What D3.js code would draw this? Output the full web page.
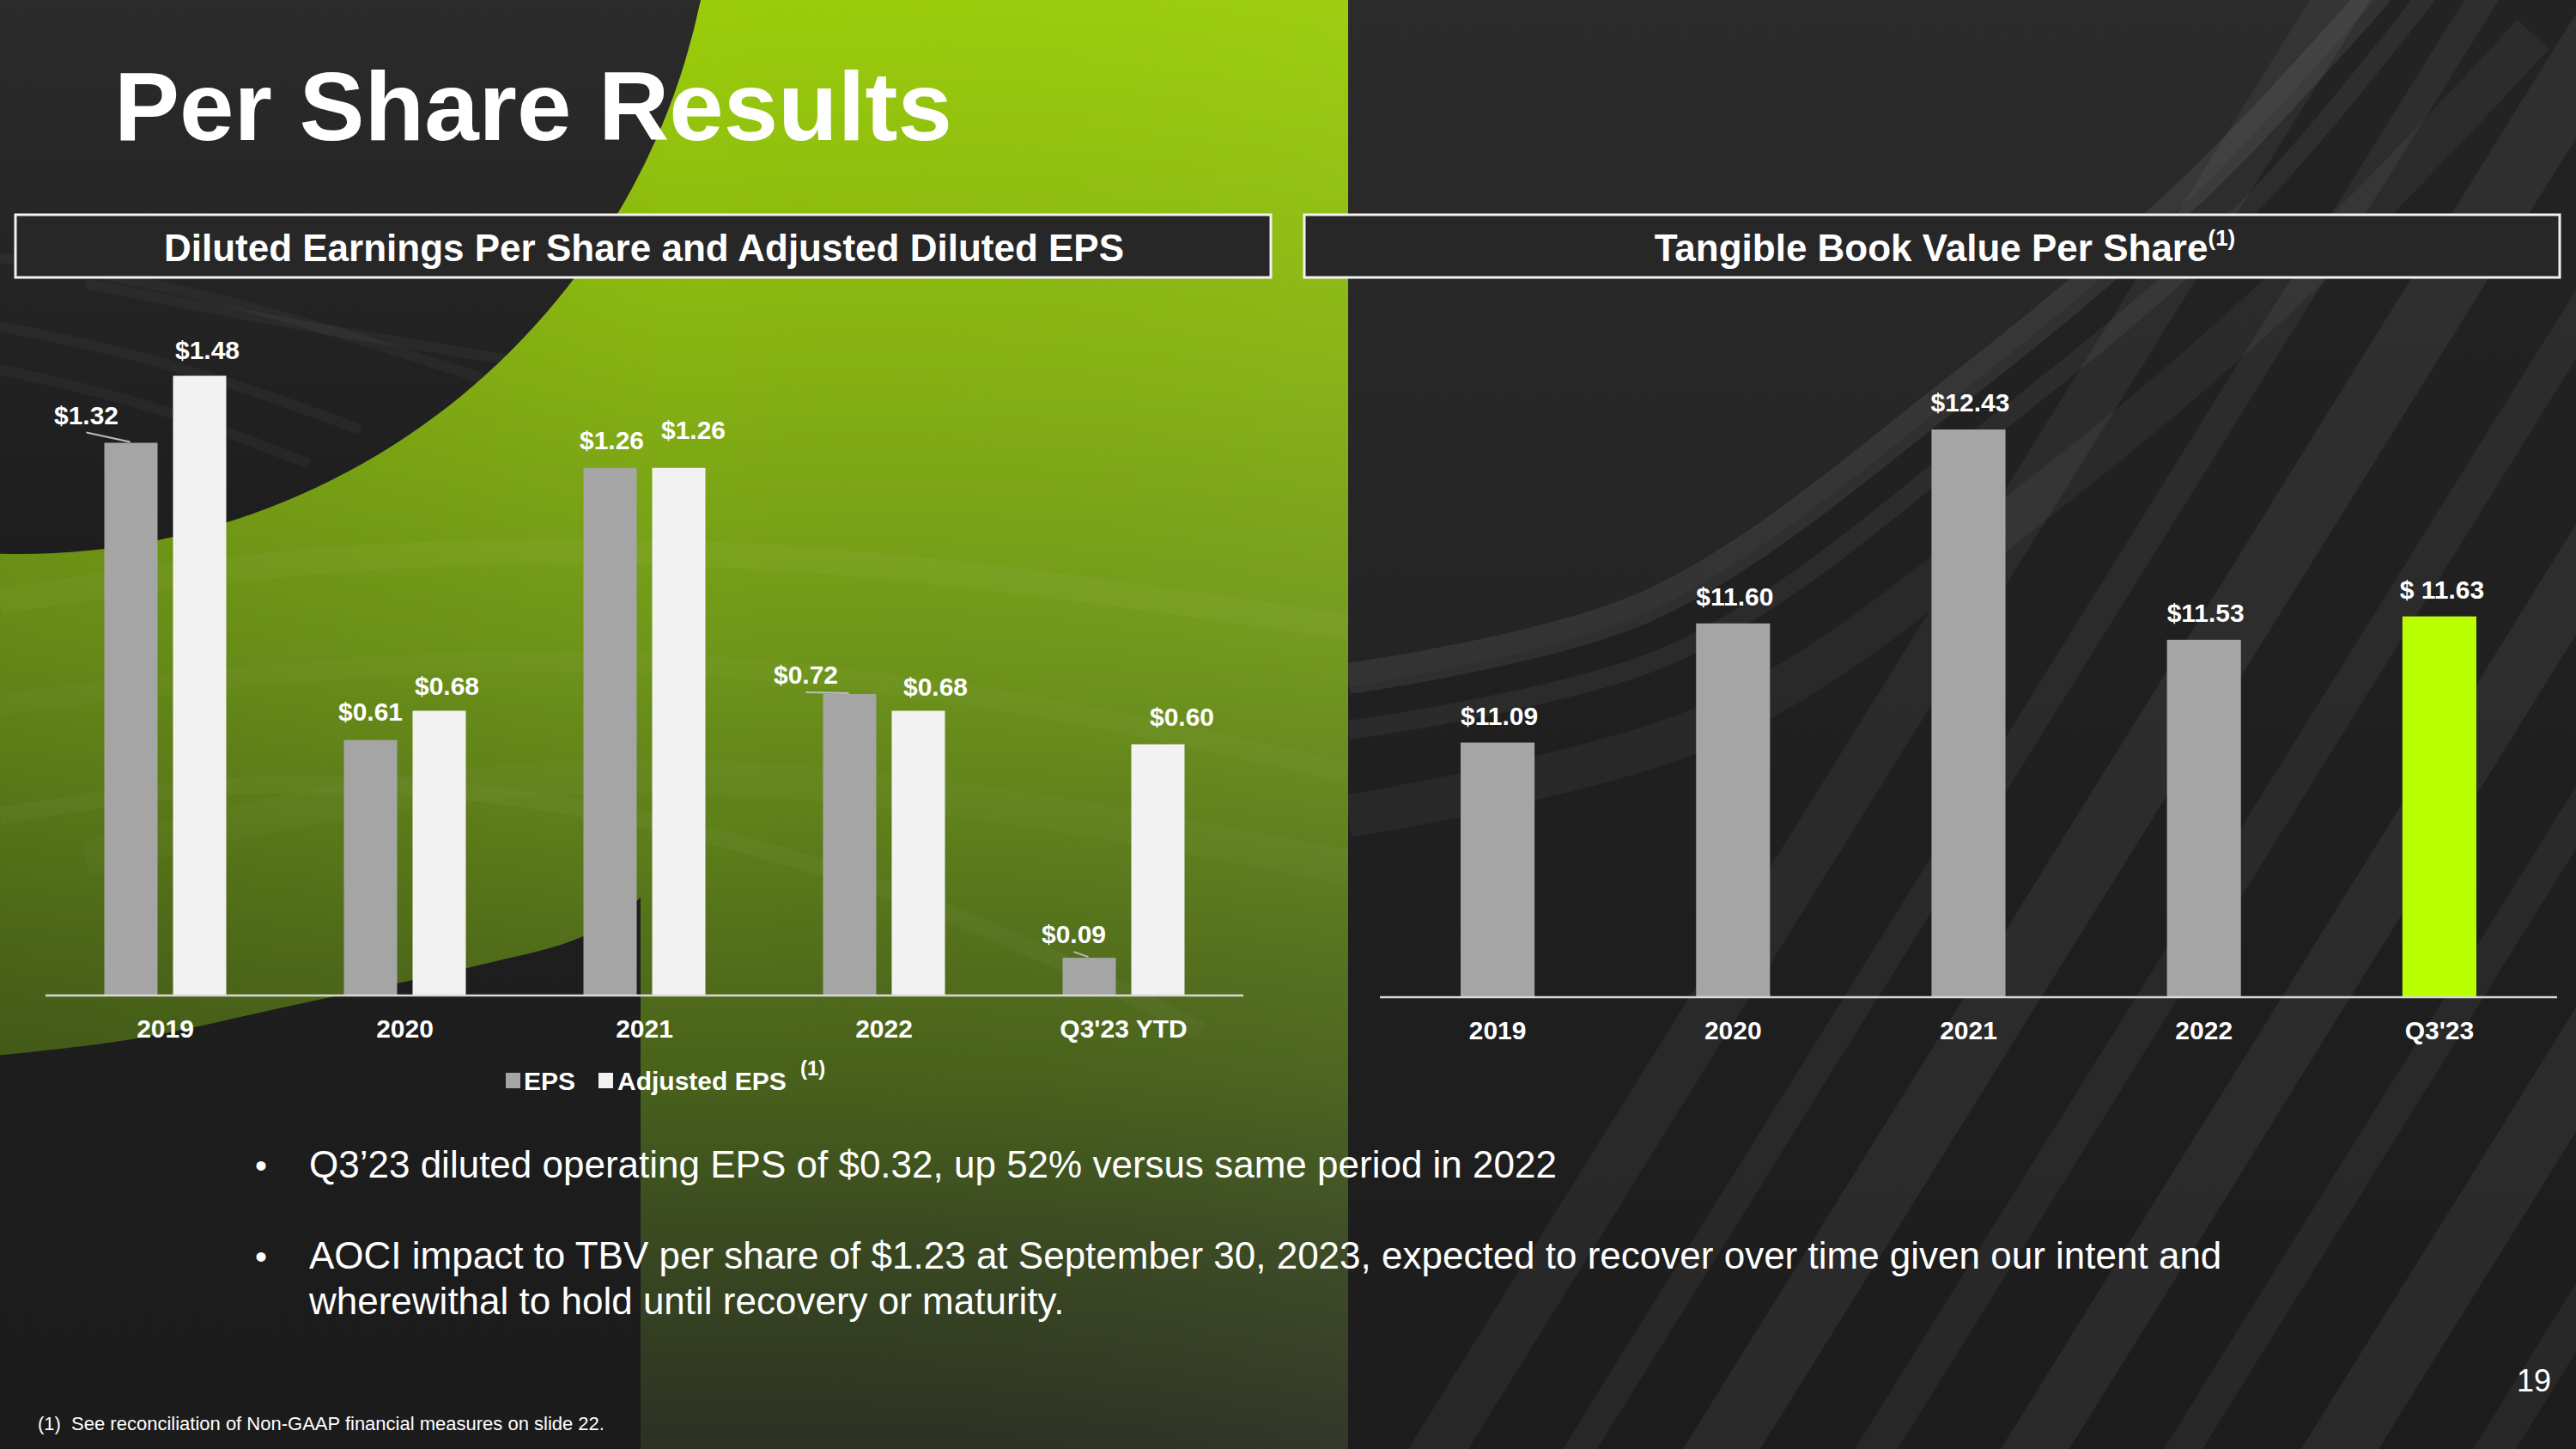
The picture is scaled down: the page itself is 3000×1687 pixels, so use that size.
<!DOCTYPE html>
<html>
<head>
<meta charset="utf-8">
<script src="https://cdn.jsdelivr.net/npm/d3@7"></script>
<style>
  html, body { margin: 0; padding: 0; background: #222; }
  svg { display: block; }
  text { font-family: "Liberation Sans", Arial, sans-serif; white-space: pre; }
</style>
</head>
<body>
<svg id="chart" width="3000" height="1687" viewBox="0 0 3000 1687"></svg>
<script>
// ---------------- DATA ----------------
const epsCategories = ["2019", "2020", "2021", "2022", "Q3'23 YTD"];
const epsSeries = ["EPS", "Adjusted EPS"];
const epsValues = [1.32, 0.61, 1.26, 0.72, 0.09];
const adjEpsValues = [1.48, 0.68, 1.26, 0.68, 0.60];

const tbvCategories = ["2019", "2020", "2021", "2022", "Q3'23"];
const tbvValues = [11.09, 11.60, 12.43, 11.53, 11.63];
const tbvLabelPrefix = ["$", "$", "$", "$", "$ "];

const titleText = "Per Share Results";
const leftHeader = "Diluted Earnings Per Share and Adjusted Diluted EPS";
const rightHeader = "Tangible Book Value Per Share";
const bullets = [
  ["Q3\u201923 diluted operating EPS of $0.32, up 52% versus same period in 2022"],
  ["AOCI impact to TBV per share of $1.23 at September 30, 2023, expected to recover over time given our intent and",
   "wherewithal to hold until recovery or maturity."]
];
const footnote = "(1)  See reconciliation of Non-GAAP financial measures on slide 22.";
const pageNumber = "19";

// label nudges (dx from bar centre, dy baseline above bar top, leader line flag)
const epsLabelNudge = [
  {dx: -52, dy: -22, leader: true},
  {dx: 0, dy: -23},
  {dx: 2, dy: -22},
  {dx: -51, dy: -12, leader: true},
  {dx: -18, dy: -17, leader: true}
];
const adjLabelNudge = [
  {dx: 9, dy: -20},
  {dx: 9, dy: -19},
  {dx: 17, dy: -34},
  {dx: 20, dy: -18},
  {dx: 28, dy: -22}
];

// ---------------- SETUP ----------------
const W = 3000, H = 1687;
const svg = d3.select("#chart");
const defs = svg.append("defs");
const FONT = '"Liberation Sans", Arial, sans-serif';

function linGrad(id, x1, y1, x2, y2, stops) {
  const g = defs.append("linearGradient").attr("id", id)
    .attr("x1", x1).attr("y1", y1).attr("x2", x2).attr("y2", y2);
  stops.forEach(s => g.append("stop").attr("offset", s[0]).attr("stop-color", s[1]).attr("stop-opacity", s[2] == null ? 1 : s[2]));
}
linGrad("gGreen", 0, 0, 0, 1, [[0, "#9bcd0b"], [0.25, "#86b212"], [0.45, "#6f961a"], [0.65, "#53701a"], [0.75, "#47601b"], [0.85, "#3a4a20"], [1, "#2c3124"]]);
linGrad("gGreenH", 0, 0, 1, 0, [[0, "#000", 0.10], [0.5, "#000", 0], [1, "#fff", 0.03]]);
linGrad("gCircle", 0, 0, 0, 1, [[0, "#2f2f2f"], [0.6, "#2b2b2b"], [1, "#1d1d1d"]]);
linGrad("gRight", 0, 0, 0, 1, [[0, "#2b2b2b"], [1, "#1c1c1c"]]);
linGrad("gBottom", 0, 0, 0, 1, [[0, "#1e1e1e"], [1, "#1b1b1b"]]);

// ---------------- BACKGROUND ----------------
const bg = svg.append("g");
bg.append("rect").attr("width", W).attr("height", H).attr("fill", "#1f1f1f");
// green area
bg.append("rect").attr("x", 0).attr("y", 0).attr("width", 1570).attr("height", H).attr("fill", "url(#gGreen)");
bg.append("rect").attr("x", 0).attr("y", 0).attr("width", 1570).attr("height", H).attr("fill", "url(#gGreenH)");

// subtle light arcs in green
const arcLine = d3.line().curve(d3.curveBasis);
[
  {pts: [[0, 700], [400, 640], [900, 640], [1300, 690], [1570, 730]], w: 30, o: 0.03},
  {pts: [[0, 820], [500, 760], [1000, 780], [1400, 860], [1570, 900]], w: 24, o: 0.025},
  {pts: [[100, 1000], [500, 900], [1000, 900], [1570, 1010]], w: 40, o: 0.025},
  {pts: [[0, 950], [300, 900], [700, 930], [1100, 1050], [1400, 1200]], w: 20, o: 0.03}
].forEach(a => bg.append("path").attr("d", arcLine(a.pts)).attr("fill", "none")
  .attr("stroke", "#fff").attr("stroke-opacity", a.o).attr("stroke-width", a.w));

// dark top-left disc
const disc = {cx: 23, cy: -165, r: 810};
bg.append("circle").attr("cx", disc.cx).attr("cy", disc.cy).attr("r", disc.r).attr("fill", "url(#gCircle)");
defs.append("clipPath").attr("id", "discClip").append("circle")
  .attr("cx", disc.cx).attr("cy", disc.cy).attr("r", disc.r);
// faint streaks inside disc
const streaks = bg.append("g").attr("clip-path", "url(#discClip)");
[[[0, 380], [200, 420], [420, 500]], [[0, 430], [180, 470], [360, 540]], [[0, 300], [250, 340], [560, 440]], [[100, 330], [350, 380], [600, 420]]]
  .forEach(p => streaks.append("path").attr("d", arcLine(p)).attr("fill", "none").attr("stroke", "#fff").attr("stroke-opacity", 0.035).attr("stroke-width", 12));

// dark bottom-left region
const curveLine = d3.line().curve(d3.curveCatmullRom);
const bottomPts = [[-5, 1229], [153, 1210], [357, 1167], [561, 1123], [679, 1090], [746, 1045]];
bg.append("path").attr("d", curveLine(bottomPts) + "L746,1692L-5,1692Z").attr("fill", "url(#gBottom)");

// right dark area
bg.append("rect").attr("x", 1570).attr("y", 0).attr("width", W - 1570).attr("height", H).attr("fill", "url(#gRight)");
const rightArcPts = [[1570, 800], [1920, 712], [2290, 452], [2567, 215], [2770, -5]];
bg.append("path").attr("d", curveLine(rightArcPts) + "L3005,-5L3005,1692L1570,1692Z").attr("fill", "#1d1d1d").attr("fill-opacity", 0.55);

// diagonal stripes on right
const stripeG = bg.append("g");
const clip = defs.append("clipPath").attr("id", "rightClip");
clip.append("rect").attr("x", 1570).attr("y", 0).attr("width", W - 1570).attr("height", H);
stripeG.attr("clip-path", "url(#rightClip)");
const slopeDx = 1050; // horizontal shift from bottom to top
[
  {x: 1640, w: 70, o: 0.05}, {x: 1820, w: 40, o: 0.05}, {x: 1960, w: 90, o: 0.06},
  {x: 2160, w: 50, o: 0.05}, {x: 2330, w: 80, o: 0.06}, {x: 2520, w: 45, o: 0.05},
  {x: 2680, w: 90, o: 0.06}, {x: 2880, w: 50, o: 0.05}, {x: 3050, w: 80, o: 0.06},
  {x: 3230, w: 50, o: 0.05}, {x: 3400, w: 90, o: 0.06}, {x: 3620, w: 60, o: 0.05}, {x: 3820, w: 80, o: 0.05}
].forEach(s => {
  stripeG.append("path")
    .attr("d", `M${s.x},${H}L${s.x + s.w},${H}L${s.x + s.w + slopeDx},0L${s.x + slopeDx},0Z`)
    .attr("fill", "#fff").attr("fill-opacity", s.o);
});
[
  {pts: [[1570, 790], [1920, 705], [2290, 445], [2567, 208], [2770, -10]], w: 36, o: 0.07},
  {pts: [[1570, 850], [1950, 760], [2330, 490], [2620, 240], [2830, -10]], w: 22, o: 0.05},
  {pts: [[1570, 950], [2000, 840], [2400, 560], [2700, 300], [2950, 40]], w: 50, o: 0.045}
].forEach(a => stripeG.append("path").attr("d", curveLine(a.pts)).attr("fill", "none")
  .attr("stroke", "#fff").attr("stroke-opacity", a.o).attr("stroke-width", a.w));

// ---------------- TITLE & HEADERS ----------------
svg.append("text").attr("x", 133).attr("y", 163)
  .attr("fill", "#fff").attr("font-size", 114).attr("font-weight", "bold")
  .text(titleText);

function headerBox(x0, x1, label, cx, sup) {
  svg.append("rect").attr("x", x0).attr("y", 250).attr("width", x1 - x0).attr("height", 73)
    .attr("fill", "#272727").attr("stroke", "#f2f2f2").attr("stroke-width", 3);
  const t = svg.append("text").attr("x", cx).attr("y", 304).attr("text-anchor", "middle")
    .attr("fill", "#fff").attr("font-size", 44).attr("font-weight", "bold");
  t.append("tspan").text(label);
  if (sup) t.append("tspan").attr("font-size", 26).attr("dy", -18).text(sup);
}
headerBox(18, 1480, leftHeader, 750, null);
headerBox(1519, 2981, rightHeader, 2265, "(1)");

// ---------------- LEFT CHART ----------------
const L = {x0: 53, x1: 1448, base: 1159};
const xL = d3.scaleBand().domain(epsCategories).range([L.x0, L.x1]).paddingInner(137 / 279).paddingOuter(137 / 279 / 2);
const xSub = d3.scaleBand().domain(epsSeries).range([0, xL.bandwidth()]).paddingInner(0.225);
const yL = d3.scaleLinear().domain([0, 1.5]).range([L.base, L.base - 1.5 * 487.5]);
const epsColors = {"EPS": "#a5a5a5", "Adjusted EPS": "#f2f2f2"};

const leftData = epsCategories.map((c, i) => ({
  cat: c,
  bars: [
    {series: "EPS", value: epsValues[i], nudge: epsLabelNudge[i]},
    {series: "Adjusted EPS", value: adjEpsValues[i], nudge: adjLabelNudge[i]}
  ]
}));
const fmt = d3.format(".2f");

const lg = svg.append("g");
const groups = lg.selectAll("g.grp").data(leftData).join("g").attr("class", "grp")
  .attr("transform", d => `translate(${xL(d.cat)},0)`);
groups.selectAll("rect").data(d => d.bars).join("rect")
  .attr("x", d => xSub(d.series)).attr("width", xSub.bandwidth())
  .attr("y", d => yL(d.value)).attr("height", d => yL(0) - yL(d.value))
  .attr("fill", d => epsColors[d.series]);
groups.selectAll("line.leader").data(d => d.bars.filter(b => b.nudge.leader)).join("line")
  .attr("class", "leader")
  .attr("x1", d => xSub(d.series) + xSub.bandwidth() / 2 + d.nudge.dx)
  .attr("y1", d => yL(d.value) + d.nudge.dy + 10)
  .attr("x2", d => xSub(d.series) + xSub.bandwidth() / 2 - 1)
  .attr("y2", d => yL(d.value) - 1)
  .attr("stroke", "#bfbfbf").attr("stroke-width", 2);
groups.selectAll("text.val").data(d => d.bars).join("text").attr("class", "val")
  .attr("x", d => xSub(d.series) + xSub.bandwidth() / 2 + d.nudge.dx)
  .attr("y", d => yL(d.value) + d.nudge.dy)
  .attr("text-anchor", "middle").attr("fill", "#fff")
  .attr("font-size", 30).attr("font-weight", "bold")
  .text(d => "$" + fmt(d.value));

const axL = lg.append("g").attr("transform", `translate(0,${L.base})`)
  .call(d3.axisBottom(xL).tickSize(0).tickPadding(0));
axL.select(".domain").attr("stroke", "#d9d9d9").attr("stroke-width", 2.5)
  .attr("d", `M${L.x0},0H${L.x1}`);
axL.selectAll(".tick text").attr("font-family", FONT).attr("font-size", 30).attr("font-weight", "bold")
  .attr("fill", "#fff").attr("dy", null).attr("y", 49);

// legend
const leg = svg.append("g").attr("transform", "translate(0,1269)");
const legItems = [
  {label: "EPS", color: epsColors["EPS"], sx: 589, tx: 610},
  {label: "Adjusted EPS", color: epsColors["Adjusted EPS"], sx: 697, tx: 719}
];
legItems.forEach(it => {
  leg.append("rect").attr("x", it.sx).attr("y", -20).attr("width", 17).attr("height", 18).attr("fill", it.color);
  leg.append("text").attr("x", it.tx).attr("y", 0).attr("fill", "#fff").attr("font-size", 30)
    .attr("font-weight", "bold").text(it.label);
});
leg.append("text").attr("x", 932).attr("y", -17).attr("fill", "#fff").attr("font-size", 24)
  .attr("font-weight", "bold").text("(1)");

// ---------------- RIGHT CHART ----------------
const R = {x0: 1607, x1: 2978, base: 1161};
const xR = d3.scaleBand().domain(tbvCategories).range([R.x0, R.x1]).paddingInner(0.686).paddingOuter(0.343);
const yR = d3.scaleLinear().domain([10, 13]).range([R.base, R.base - 3 * 272]);
const rightData = tbvCategories.map((c, i) => ({cat: c, value: tbvValues[i], prefix: tbvLabelPrefix[i], last: i === tbvCategories.length - 1}));

const rg = svg.append("g");
rg.selectAll("rect").data(rightData).join("rect")
  .attr("x", d => xR(d.cat)).attr("width", xR.bandwidth())
  .attr("y", d => yR(d.value)).attr("height", d => yR(10) - yR(d.value))
  .attr("fill", d => d.last ? "#b9ff00" : "#a5a5a5");
rg.selectAll("text.val").data(rightData).join("text").attr("class", "val")
  .attr("x", d => xR(d.cat) + xR.bandwidth() / 2 + (d.last ? 3 : 2))
  .attr("y", d => yR(d.value) - 21)
  .attr("text-anchor", "middle").attr("fill", "#fff")
  .attr("font-size", 30).attr("font-weight", "bold")
  .text(d => d.prefix + fmt(d.value));
const axR = rg.append("g").attr("transform", `translate(0,${R.base})`)
  .call(d3.axisBottom(xR).tickSize(0).tickPadding(0));
axR.select(".domain").attr("stroke", "#d9d9d9").attr("stroke-width", 2.5)
  .attr("d", `M${R.x0},0H${R.x1}`);
axR.selectAll(".tick text").attr("font-family", FONT).attr("font-size", 30).attr("font-weight", "bold")
  .attr("fill", "#fff").attr("dy", null).attr("y", 49);

// ---------------- BULLETS & FOOTER ----------------
const bulletY = [1371, 1477];
bullets.forEach((lines, i) => {
  svg.append("text").attr("x", 297).attr("y", bulletY[i]).attr("fill", "#fff").attr("font-size", 40).text("\u2022");
  lines.forEach((ln, j) => {
    svg.append("text").attr("x", 360).attr("y", bulletY[i] + j * 53).attr("fill", "#fff")
      .attr("font-size", 44).text(ln);
  });
});
svg.append("text").attr("x", 44).attr("y", 1665).attr("fill", "#fff").attr("font-size", 22).text(footnote);
svg.append("text").attr("x", 2971).attr("y", 1620).attr("text-anchor", "end").attr("fill", "#fff").attr("font-size", 36).text(pageNumber);
</script>
</body>
</html>
